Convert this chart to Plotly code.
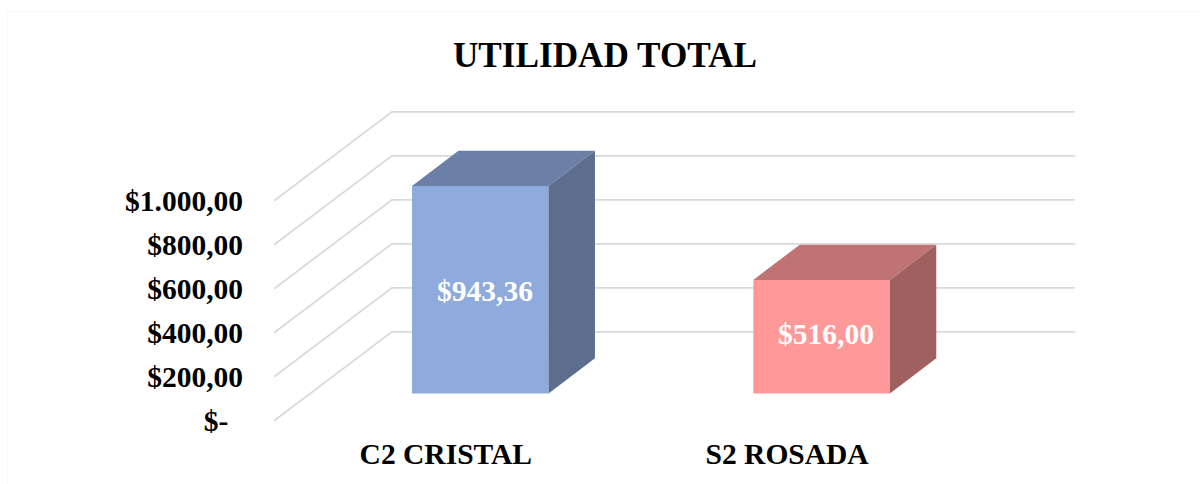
import plotly.graph_objects as go

# valores
categorias = ['C2 CRISTAL', 'S2 ROSADA']
utilidad = [943.36, 516.00]
etiquetas = ['$943,36', '$516,00']
marcas_y = [0, 200, 400, 600, 800, 1000]
textos_y = ['$-\u00a0\u00a0', '$200,00', '$400,00', '$600,00', '$800,00', '$1.000,00']

color_frente = ['#8FAADC', '#FF9999']
color_arriba = ['#6C7FA6', '#BF7373']
color_lado = ['#5C6D8E', '#A16060']

# efecto 3D: desplazamiento del fondo respecto al frente, en unidades de los ejes
FONDO_X = 0.345
FONDO_Y = 404
BARRA_X = 0.107   # la barra arranca a esta profundidad del piso
BARRA_Y = 124
PROF_X = 0.136
PROF_Y = 160
ANCHO = 0.4
PARED_IZQ = -0.497
PARED_DER = 1.849
AJUSTE_CATEGORIA = 0.006

FUENTE = 'Liberation Serif'

fig = go.Figure()

# lineas de division: diagonal en la pared lateral y horizontal en el fondo
for v in marcas_y:
    fig.add_shape(
        type='path',
        path=f'M {PARED_IZQ} {v} L {PARED_IZQ + FONDO_X} {v + FONDO_Y} L {PARED_DER} {v + FONDO_Y}',
        line=dict(color='#DADADA', width=1.8),
        layer='below'
    )

for i, cat in enumerate(categorias):
    izq = i + BARRA_X - ANCHO / 2
    der = i + BARRA_X + ANCHO / 2
    piso = BARRA_Y
    techo = BARRA_Y + utilidad[i]

    # cara frontal
    fig.add_trace(go.Bar(
        x=[i + BARRA_X],
        y=[utilidad[i]],
        base=[piso],
        width=[ANCHO],
        marker=dict(color=color_frente[i], line=dict(width=0)),
        hoverinfo='skip'
    ))
    # cara superior
    fig.add_trace(go.Scatter(
        x=[izq, der, der + PROF_X, izq + PROF_X, izq],
        y=[techo, techo, techo + PROF_Y, techo + PROF_Y, techo],
        mode='lines',
        fill='toself',
        fillcolor=color_arriba[i],
        line=dict(width=0),
        hoverinfo='skip'
    ))
    # cara lateral
    fig.add_trace(go.Scatter(
        x=[der, der + PROF_X, der + PROF_X, der, der],
        y=[piso, piso + PROF_Y, techo + PROF_Y, techo, piso],
        mode='lines',
        fill='toself',
        fillcolor=color_lado[i],
        line=dict(width=0),
        hoverinfo='skip'
    ))
    # etiqueta de datos
    fig.add_annotation(
        x=i + BARRA_X,
        y=piso + utilidad[i] / 2,
        text=etiquetas[i],
        showarrow=False,
        xshift=4.5,
        yshift=[-1.5, 2.6][i],
        font=dict(family=FUENTE, size=29.5, color='white', weight='bold')
    )

# marco muy tenue: solo se ve arriba y a la izquierda
fig.add_shape(
    type='path', xref='paper', yref='paper',
    path=f'M {(7.5 - 250) / 950} {(440 - 484) / 440} L {(7.5 - 250) / 950} {(440 - 11.5) / 440} L {(1200 - 250) / 950} {(440 - 11.5) / 440}',
    line=dict(color='#F7F7F7', width=1),
    layer='below'
)

fig.update_xaxes(
    range=[-0.5677, 2.2157],
    tickvals=[i + AJUSTE_CATEGORIA for i in range(len(categorias))],
    ticktext=categorias,
    tickfont=dict(family=FUENTE, size=29.5, color='black', weight='bold'),
    showgrid=False, zeroline=False, showline=False, ticks='',
    ticklabelstandoff=-7
)
fig.update_yaxes(
    range=[-87.7, 1912.3],
    tickvals=marcas_y,
    ticktext=textos_y,
    tickfont=dict(family=FUENTE, size=29.5, color='black', weight='bold'),
    showgrid=False, zeroline=False, showline=False, ticks='',
    ticklabelstandoff=6
)

fig.update_layout(
    title=dict(
        text='UTILIDAD TOTAL',
        x=605 / 1200, xanchor='center',
        y=1 - 55 / 484, yanchor='middle',
        font=dict(family=FUENTE, size=35.2, color='black', weight='bold')
    ),
    width=1200,
    height=484,
    margin=dict(l=250, r=0, t=0, b=44, autoexpand=False),
    paper_bgcolor='white',
    plot_bgcolor='white',
    showlegend=False
)

fig.write_html('out.html', post_script="document.body.style.margin='0';", config=dict(displayModeBar=False))
